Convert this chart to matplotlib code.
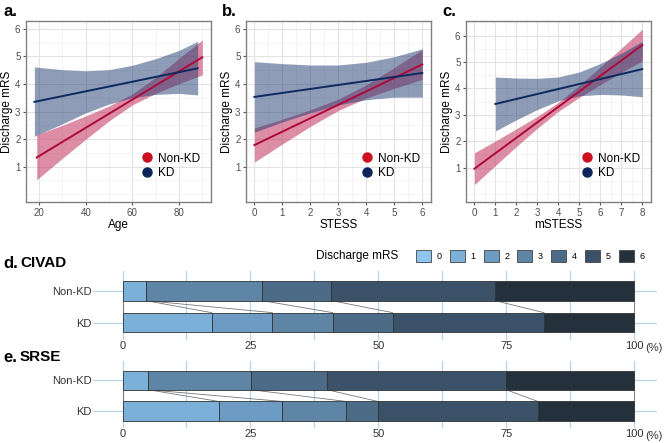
import numpy as np
import matplotlib
matplotlib.use("Agg")
import matplotlib.pyplot as plt
from matplotlib.patches import Patch
from matplotlib.lines import Line2D
from matplotlib.ticker import MultipleLocator
import matplotlib.transforms as mtrans

plt.rcParams['font.family'] = ['Liberation Sans', 'DejaVu Sans']

# ---- panel a: Age ----
age_nonkd_x = [19, 30, 40, 50, 60, 70, 80, 90]
age_nonkd_fit = [1.33, 1.90, 2.41, 2.93, 3.44, 3.95, 4.47, 4.97]
age_nonkd_lo = [0.52, 1.30, 1.99, 2.66, 3.24, 3.66, 4.01, 4.33]
age_nonkd_hi = [2.15, 2.50, 2.84, 3.20, 3.64, 4.24, 4.93, 5.60]
age_kd_x = [18, 30, 40, 50, 60, 70, 80, 88]
age_kd_fit = [3.35, 3.56, 3.73, 3.91, 4.08, 4.26, 4.43, 4.57]
age_kd_lo = [2.10, 2.55, 2.95, 3.27, 3.50, 3.62, 3.66, 3.60]
age_kd_hi = [4.62, 4.52, 4.48, 4.52, 4.68, 4.92, 5.22, 5.55]

# ---- panel b: STESS ----
stess_nonkd_x = [0, 1, 2, 3, 4, 5, 6]
stess_nonkd_fit = [1.78, 2.27, 2.76, 3.24, 3.73, 4.22, 4.71]
stess_nonkd_lo = [1.16, 1.82, 2.46, 3.04, 3.49, 3.84, 4.17]
stess_nonkd_hi = [2.40, 2.72, 3.06, 3.45, 3.97, 4.60, 5.25]
stess_kd_x = [0, 1, 2, 3, 4, 5, 6]
stess_kd_fit = [3.53, 3.68, 3.82, 3.97, 4.11, 4.26, 4.40]
stess_kd_lo = [2.25, 2.62, 2.95, 3.24, 3.43, 3.52, 3.52]
stess_kd_hi = [4.81, 4.74, 4.69, 4.69, 4.79, 4.99, 5.28]

# ---- panel c: mSTESS ----
mstess_nonkd_x = [0, 1, 2, 3, 4, 5, 6, 7, 8]
mstess_nonkd_fit = [0.96, 1.55, 2.13, 2.72, 3.30, 3.89, 4.47, 5.06, 5.64]
mstess_nonkd_lo = [0.36, 1.08, 1.80, 2.49, 3.13, 3.66, 4.14, 4.60, 5.04]
mstess_nonkd_hi = [1.56, 2.01, 2.47, 2.94, 3.47, 4.11, 4.81, 5.52, 6.24]
mstess_kd_x = [1, 2, 3, 4, 5, 6, 7, 8]
mstess_kd_fit = [3.41, 3.60, 3.79, 3.98, 4.17, 4.35, 4.54, 4.73]
mstess_kd_lo = [2.39, 2.81, 3.20, 3.53, 3.72, 3.77, 3.75, 3.68]
mstess_kd_hi = [4.43, 4.39, 4.38, 4.43, 4.62, 4.94, 5.33, 5.78]

# ---- panels d/e: discharge mRS distribution (%) ----
mrs_levels = ['0', '1', '2', '3', '4', '5', '6']
groups = ['KD', 'Non-KD']
civad_nonkd = [0, 4.5, 0, 22.7, 13.6, 32.0, 27.2]
civad_kd = [0, 17.4, 11.9, 11.8, 11.7, 29.6, 17.6]
srse_nonkd = [0, 5.0, 0, 20.1, 14.9, 35.0, 25.0]
srse_kd = [0, 18.8, 12.4, 12.5, 6.2, 31.3, 18.8]

mrs_colors = ['#8ec5ef', '#7cb0d9', '#6c9bc3', '#5f85a6', '#4c6b87', '#3b5167', '#24303c']
red_line = '#ae083b'
red_band = '#c2325e'
blue_line = '#0c2a5e'
blue_band = '#203b70'

W, H = 669, 443


def px_axes(fig, left, top, right, bottom):
    return fig.add_axes([left / W, 1 - bottom / H, (right - left) / W, (bottom - top) / H])


def fit_panel(ax, nk, k, xlabel, xlim, ylim, xmajor, xminor):
    ax.fill_between(nk[0], nk[2], nk[3], color=red_band, alpha=0.55, lw=0, zorder=2)
    ax.fill_between(k[0], k[2], k[3], color=blue_band, alpha=0.5, lw=0, zorder=3)
    ax.plot([nk[0][0], nk[0][-1]], [nk[1][0], nk[1][-1]], color=red_line, lw=1.4, zorder=4)
    ax.plot([k[0][0], k[0][-1]], [k[1][0], k[1][-1]], color=blue_line, lw=1.4, zorder=4)
    ax.set_xlim(*xlim)
    ax.set_ylim(*ylim)
    ax.set_yticks([1, 2, 3, 4, 5, 6])
    ax.yaxis.set_minor_locator(MultipleLocator(0.5))
    ax.xaxis.set_major_locator(MultipleLocator(xmajor))
    ax.xaxis.set_minor_locator(MultipleLocator(xminor))
    ax.grid(True, which='major', color='#e3e3e3', lw=0.8, zorder=0)
    ax.grid(True, which='minor', color='#f0f0f0', lw=0.5, zorder=0)
    ax.set_axisbelow(True)
    for s in ax.spines.values():
        s.set_color('#808080')
        s.set_linewidth(1.0)
    ax.tick_params(which='major', length=2.5, color='#555555', labelsize=7, labelcolor='#4d4d4d', pad=1.5)
    ax.tick_params(which='minor', length=0)
    ax.set_xlabel(xlabel, fontsize=8.5, labelpad=1)
    ax.set_ylabel('Discharge mRS', fontsize=8.5)
    ax.yaxis.set_label_coords(-0.072, 0.5)
    handles = [Line2D([], [], ls='', marker='o', ms=6.5, color='#cc1020'),
               Line2D([], [], ls='', marker='o', ms=6.5, color='#0b2459')]
    ax.legend(handles, ['Non-KD', 'KD'], loc='center left', bbox_to_anchor=(0.56, 0.2),
              frameon=False, fontsize=8.5, handletextpad=0.3, labelspacing=0.25,
              handlelength=1.2)


def bar_panel(ax, nonkd, kd, h=0.62):
    data = {'Non-KD': nonkd, 'KD': kd}
    ypos = {'KD': 0, 'Non-KD': 1}
    cums = {}
    for g in groups:
        vals = np.array(data[g], dtype=float)
        lefts = np.concatenate([[0], np.cumsum(vals)[:-1]])
        cums[g] = np.concatenate([[0], np.cumsum(vals)])
        for i, (v, l) in enumerate(zip(vals, lefts)):
            if v <= 0:
                continue
            ax.barh(ypos[g], v, left=l, height=h, color=mrs_colors[i],
                    edgecolor='#333333', lw=0.6, zorder=3)
    # connectors between the bars at each cumulative boundary
    for c_non, c_kd in zip(cums['Non-KD'], cums['KD']):
        ax.plot([c_non, c_kd], [1 - h / 2, h / 2], color='#777777', lw=0.6, zorder=2)
    ax.set_xlim(-5, 104.5)
    ax.set_ylim(-0.55, 1.62)
    ax.set_yticks([0, 1])
    ax.set_yticklabels(['KD', 'Non-KD'])
    ax.set_xticks([0, 25, 50, 75, 100])
    ax.set_xticklabels(['0', '25', '50', '75', '100'])
    ax.xaxis.set_minor_locator(MultipleLocator(12.5))
    ax.grid(True, which='both', axis='x', color='#b5d6f0', lw=0.9, zorder=0)
    ax.grid(True, which='major', axis='y', color='#b5d6f0', lw=0.9, zorder=0)
    ax.set_axisbelow(True)
    for s in ax.spines.values():
        s.set_visible(False)
    ax.tick_params(axis='x', which='both', length=0, labelsize=8, labelcolor='#333333', pad=1)
    ax.tick_params(axis='y', length=3, color='#b5d6f0', labelsize=8, labelcolor='#333333', pad=1)
    tr = mtrans.blended_transform_factory(ax.transData, ax.transAxes)
    ax.text(102.3, -0.04, '(%)', transform=tr, ha='left', va='top', fontsize=8, color='#333333')


def main():
    fig = plt.figure(figsize=(W / 100, H / 100), dpi=100)

    ax_a = px_axes(fig, 26, 20.7, 210.7, 202.3)
    fit_panel(ax_a, (age_nonkd_x, age_nonkd_fit, age_nonkd_lo, age_nonkd_hi),
              (age_kd_x, age_kd_fit, age_kd_lo, age_kd_hi),
              'Age', (14.4, 93.6), (-0.3, 6.3), 20, 10)
    ax_b = px_axes(fig, 246, 20.7, 430.7, 202.3)
    fit_panel(ax_b, (stess_nonkd_x, stess_nonkd_fit, stess_nonkd_lo, stess_nonkd_hi),
              (stess_kd_x, stess_kd_fit, stess_kd_lo, stess_kd_hi),
              'STESS', (-0.3, 6.3), (-0.3, 6.3), 1, 0.5)
    ax_c = px_axes(fig, 466, 20.7, 650.7, 202.3)
    fit_panel(ax_c, (mstess_nonkd_x, mstess_nonkd_fit, mstess_nonkd_lo, mstess_nonkd_hi),
              (mstess_kd_x, mstess_kd_fit, mstess_kd_lo, mstess_kd_hi),
              'mSTESS', (-0.4, 8.4), (-0.31, 6.56), 1, 0.5)

    for lab, x in zip(['a.', 'b.', 'c.'], [3, 222, 442]):
        fig.text(x / W, 1 - 11 / H, lab, fontsize=12, fontweight='bold', va='center')

    ax_d = px_axes(fig, 97, 271, 657, 340)
    bar_panel(ax_d, civad_nonkd, civad_kd)
    ax_e = px_axes(fig, 97, 361, 657, 428)
    bar_panel(ax_e, srse_nonkd, srse_kd)

    fig.text(3 / W, 1 - 263 / H, 'd.', fontsize=12, fontweight='bold', va='center')
    fig.text(20 / W, 1 - 263 / H, 'CIVAD', fontsize=11, fontweight='bold', va='center')
    fig.text(3 / W, 1 - 357 / H, 'e.', fontsize=12, fontweight='bold', va='center')
    fig.text(20 / W, 1 - 357 / H, 'SRSE', fontsize=11, fontweight='bold', va='center')

    fig.text(316 / W, 1 - 256 / H, 'Discharge mRS', fontsize=8.5, va='center')
    handles = [Patch(facecolor=c, edgecolor='#444444', lw=0.6) for c in mrs_colors]
    fig.legend(handles, mrs_levels, loc='center left', bbox_to_anchor=(416 / W, 1 - 256 / H),
               ncol=7, frameon=False, fontsize=6.5, handlelength=1.67, handleheight=1.67,
               handletextpad=0.6, columnspacing=0.92, borderaxespad=0, borderpad=0)

    fig.savefig('out.png', dpi=100)


if __name__ == "__main__":
    main()
